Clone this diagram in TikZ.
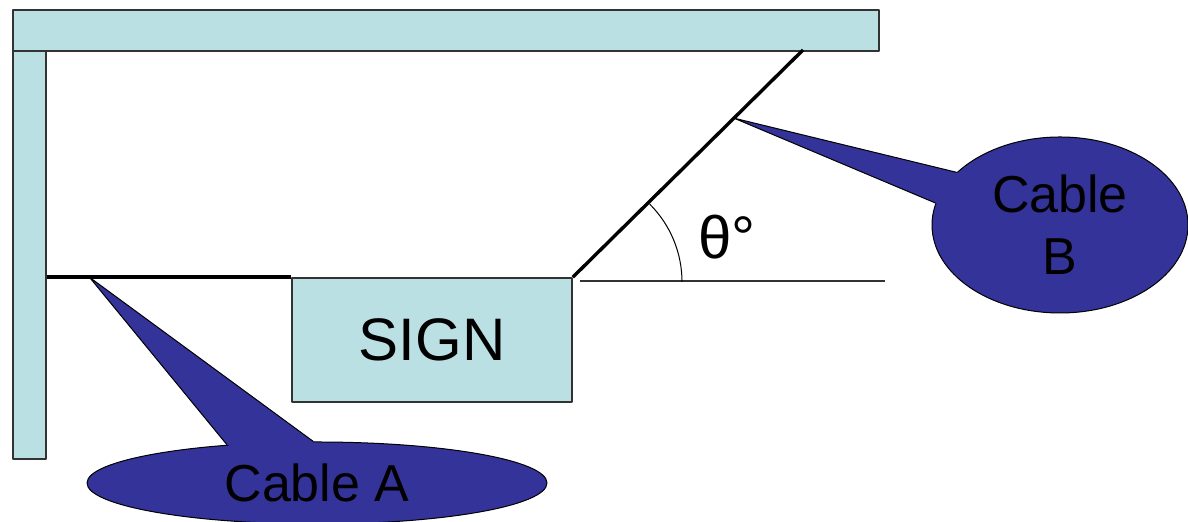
\documentclass[tikz,border=0pt]{standalone}
\usepackage{fontspec}
\setmainfont{Liberation Sans}
\usetikzlibrary{calc,shapes.geometric}

\definecolor{panel}{HTML}{BAE0E3}
\definecolor{bubbleblue}{HTML}{333399}

\begin{document}
\begin{tikzpicture}[x=0.5pt,y=0.5pt, line join=round]

% ---------- styles ----------
\tikzset{
  member/.style={draw=black!80, line width=0.8pt, fill=panel, inner sep=0pt},
  cable/.style={line width=1.7pt, black},
  guide/.style={line width=0.7pt, black!80},
  bubble/.style={ellipse, draw=black, line width=0.5pt, fill=bubbleblue, inner sep=0pt, align=center},
  bubblefill/.style={fill=bubbleblue},
  bubbleedge/.style={draw=black, line width=0.5pt},
  big/.style={font=\fontsize{30}{36}\selectfont},
  mid/.style={font=\fontsize{26}{31}\selectfont},
}

\useasboundingbox (0,0) rectangle (1188,522);

% ---------- frame ----------
\node[member, minimum width=433pt, minimum height=20.5pt, anchor=north west] (beam) at (12,513) {};
\node[member, minimum width=16.5pt, minimum height=204pt, anchor=north west] (post) at (12,472) {};

% ---------- sign ----------
\node[member, minimum width=140pt, minimum height=62pt, big] (sign) at (432,182) {SIGN};

% ---------- cables ----------
\coordinate (Btop) at (803,472);
\draw[cable] (post.east |- sign.north west) -- (sign.north west);
\draw[cable] (sign.north east) -- (Btop);

% angle against the horizontal
\coordinate (refL) at (580,241);
\coordinate (refR) at (885,241);
\draw[guide] (refL) -- (refR);
\draw[line width=0.5pt] (682,240) arc[start angle=0, end angle=45, radius=55pt];
\node[big] (theta) at (727,285) {θ°};

% ---------- callouts ----------
\coordinate (tipA) at ($(post.east |- sign.north west)!0.175!(sign.north west)$);
\coordinate (tipB) at ($(sign.north east)!0.7!(Btop)$);

\node[bubble, minimum width=128pt, minimum height=88pt, mid] (cableB) at (1060,297) {Cable\\B};
\fill[bubblefill] (tipB) -- (cableB.153) -- ($(cableB.153)!0.12!(cableB.center)$)
  -- ($(cableB.170)!0.12!(cableB.center)$) -- (cableB.170) -- cycle;
\draw[bubbleedge] (cableB.153) -- (tipB) -- (cableB.170);

\node[bubble, minimum width=230pt, minimum height=41pt, mid] (cableA) at (317,39) {Cable A};
\fill[bubblefill] (tipA) -- (cableA.157) -- ($(cableA.157)!0.12!(cableA.center)$)
  -- ($(cableA.95)!0.12!(cableA.center)$) -- (cableA.95) -- cycle;
\draw[bubbleedge] (cableA.157) -- (tipA) -- (cableA.95);

\end{tikzpicture}
\end{document}
